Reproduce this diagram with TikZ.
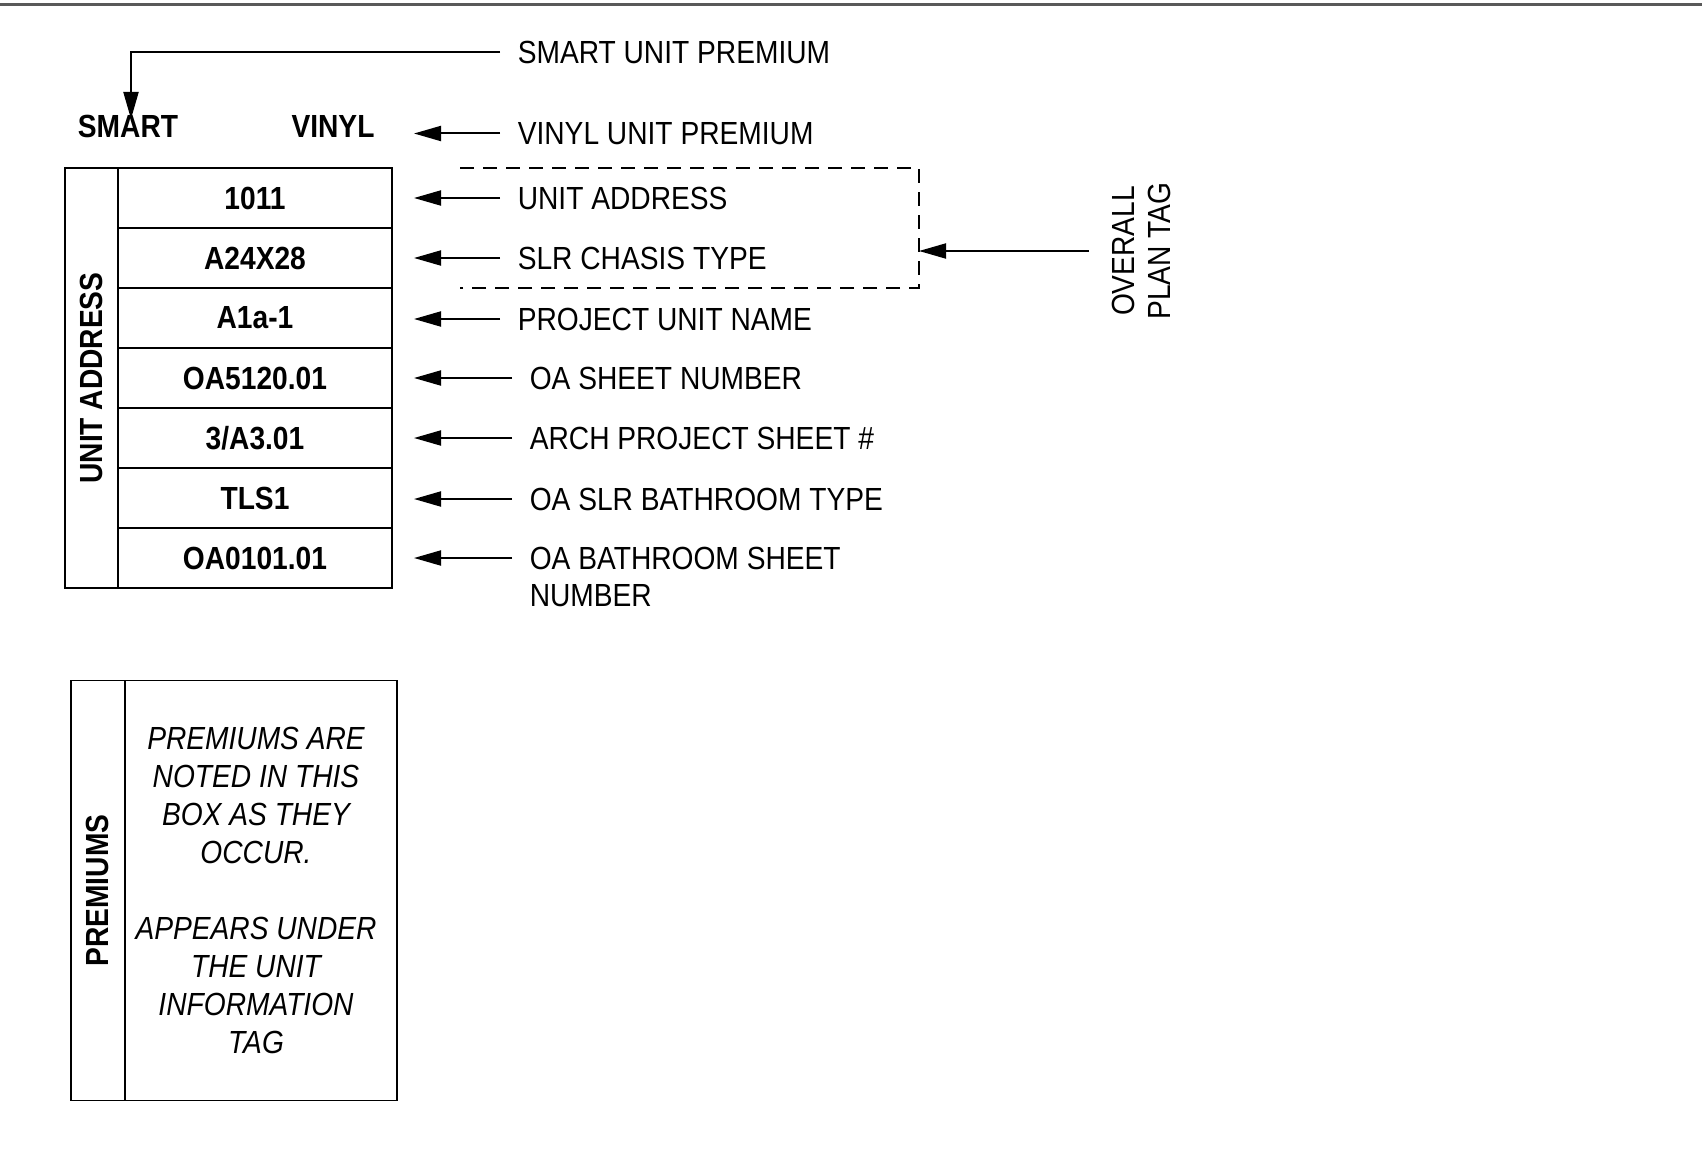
\documentclass[tikz,border=0pt]{standalone}
\usepackage{fontspec}
\setmainfont{Liberation Sans}[FakeStretch=0.88]
\usetikzlibrary{arrows.meta}
\begin{document}
\begin{tikzpicture}[x=1pt,y=-1pt,line width=1.6pt,
  arr/.style={line width=2pt,-{Triangle[length=27pt,width=15pt]}},
  cell/.style={draw,minimum width=274pt,minimum height=60pt,inner sep=0pt,
    font=\fontsize{32}{38}\selectfont\bfseries},
  sidecell/.style={draw,rotate=90,inner sep=0pt,
    font=\fontsize{32}{38}\selectfont\bfseries},
  lbl/.style={anchor=base west,inner xsep=17pt,inner ysep=0pt,align=left,
    font=\fontsize{32}{37}\selectfont},
  headtxt/.style={inner sep=0pt,font=\fontsize{32}{38}\selectfont\bfseries},
  dashline/.style={line width=1.3pt,dash pattern=on 14pt off 9pt},
]
\useasboundingbox (0,0) rectangle (1702,1153);
% top rule
\draw[line width=2.5pt,draw=black!65] (0,4.5) -- (1702,4.5);

% header words
\node[headtxt] (smart) at (128,126) {SMART};
\node[headtxt] (vinyl) at (333,126) {VINYL};

% main tag
\node[sidecell,minimum width=420pt,minimum height=53pt] (ua) at (91.5,378) {UNIT ADDRESS};
\node[cell] (c1) at (255,198) {1011};
\node[cell] (c2) at (255,258) {A24X28};
\node[cell] (c3) at (255,318) {A1a-1};
\node[cell] (c4) at (255,378) {OA5120.01};
\node[cell] (c5) at (255,438) {3/A3.01};
\node[cell] (c6) at (255,498) {TLS1};
\node[cell] (c7) at (255,558) {OA0101.01};

% arrow tips
\coordinate (bend) at (131,52);
\coordinate (tsm) at (131,119);
\coordinate (tv) at (414,133.5);
\coordinate (t1) at (414,198);
\coordinate (t2) at (414,258);
\coordinate (t3) at (414,319);
\coordinate (t4) at (414,378);
\coordinate (t5) at (414,438);
\coordinate (t6) at (414,499);
\coordinate (t7) at (414,558);

% labels
\node[lbl] (lsm) at (500,63.5) {SMART UNIT PREMIUM};
\node[lbl] (lv) at (500,145) {VINYL UNIT PREMIUM};
\node[lbl] (l1) at (500,209.5) {UNIT ADDRESS};
\node[lbl] (l2) at (500,269.5) {SLR CHASIS TYPE};
\node[lbl] (l3) at (500,330.5) {PROJECT UNIT NAME};
\node[lbl] (l4) at (512,389.5) {OA SHEET NUMBER};
\node[lbl] (l5) at (512,449.5) {ARCH PROJECT SHEET \#};
\node[lbl] (l6) at (512,510.5) {OA SLR BATHROOM TYPE};
\node[lbl] (l7) at (512,606.5) {OA BATHROOM SHEET\\NUMBER};

% connectors
\draw[arr] (lsm.west |- bend) -- (bend) -- (tsm);
\draw[arr] (lv.west |- tv) -- (tv);
\draw[arr] (l1.west |- t1) -- (t1);
\draw[arr] (l2.west |- t2) -- (t2);
\draw[arr] (l3.west |- t3) -- (t3);
\draw[arr] (l4.west |- t4) -- (t4);
\draw[arr] (l5.west |- t5) -- (t5);
\draw[arr] (l6.west |- t6) -- (t6);
\draw[arr] (l7.west |- t7) -- (t7);

% overall plan tag bracket
\draw[dashline] (460,168) -- (919,168) -- (919,288) -- (460,288);
\coordinate (dr) at (919,251);
\coordinate (ovt) at (1089,251);
\node[rotate=90,align=center,inner sep=0pt,font=\fontsize{32}{36}\selectfont] (ov) at (1141,251) {OVERALL\\PLAN TAG};
\draw[arr] (ovt) -- (dr);

% premiums box
\node[sidecell,minimum width=420pt,minimum height=54pt] (pr) at (97.7,890.6) {PREMIUMS};
\node[draw,minimum width=272.5pt,minimum height=420pt,inner sep=0pt] (pbox) at (261,890.6) {};
\node[align=center,inner sep=0pt,font=\fontsize{32}{38}\selectfont\itshape] (ptxt) at (256,890) {PREMIUMS ARE\\NOTED IN THIS\\BOX AS THEY\\OCCUR.\\[38pt]APPEARS UNDER\\THE UNIT\\INFORMATION\\TAG};
\end{tikzpicture}
\end{document}
